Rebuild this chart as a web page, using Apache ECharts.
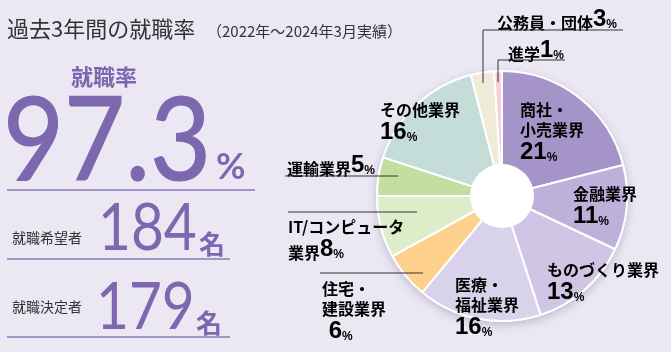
<!DOCTYPE html>
<html>
<head>
<meta charset="utf-8">
<script src="https://cdn.jsdelivr.net/npm/echarts@6/dist/echarts.min.js"></script>
<style>
    html, body { margin: 0; padding: 0; background: #ebe8f4; }
    #chart { width: 671px; height: 352px; }
</style>
</head>
<body>
<div id="chart"></div>
<script>
// =====================================================
// DATA
// =====================================================

const categories = ['商社・小売業界', '金融業界', 'ものづくり業界', '医療・福祉業界', '住宅・建設業界',
                    'IT/コンピュータ業界', '運輸業界', 'その他業界', '公務員・団体', '進学'];
const shares = [21, 11, 13, 16, 6, 8, 5, 16, 3, 1];

const rate = 97.3;
const applicants = 184;
const hired = 179;

// =====================================================
// STYLE
// =====================================================

const slice_colors = ['#a594c8', '#bdb1d9', '#cec6e4', '#d9d2eb', '#fdd08c',
                      '#ddedc9', '#c2dfa0', '#c5ddd9', '#f0ead9', '#f7cfd8'];
const purple = '#7d67af';
const ink = '#333333';
const jp = '"Noto Sans CJK JP", "Noto Sans", sans-serif';
const num_font = 'Lato, "Noto Sans", sans-serif';

const center = [502, 196];
const outer_r = 125;
const inner_r = 32;

// label layout: where each category name breaks and where the block sits
// mode: 'stack' = value on its own line, 'inline' = value after last name line
const label_layout = [
    { x: 520, y: 98,  breaks: [3],  mode: 'stack' },
    { x: 573, y: 182, breaks: [],   mode: 'stack' },
    { x: 547, y: 258, breaks: [],   mode: 'stack' },
    { x: 455, y: 273, breaks: [3],  mode: 'stack' },
    { x: 322, y: 277, breaks: [3],  mode: 'stack', indent: ' ' },
    { x: 288, y: 215, breaks: [9],  mode: 'inline' },
    { x: 287, y: 151, breaks: [],   mode: 'inline' },
    { x: 380, y: 98,  breaks: [],   mode: 'stack' },
    { x: 497, y: 5,   breaks: [],   mode: 'inline' },
    { x: 508, y: 36,  breaks: [],   mode: 'inline' }
];

const leader_lines = [
    [[483, 83], [483, 30], [623, 30]],
    [[498, 82], [498, 60], [565, 60]],
    [[285, 176], [398, 176]],
    [[288, 212], [417, 212]],
    [[320, 273], [423, 273]]
];

// =====================================================
// LABEL TEXT
// =====================================================

function label_text(i) {
    const lay = label_layout[i];
    const name = categories[i];
    let parts = [];
    let start = 0;
    lay.breaks.forEach(b => {
        parts.push(name.slice(start, b));
        start = b;
    });
    parts.push(name.slice(start));
    const lines = parts.map(p => `{n|${p}}`);
    const val = `{v|${(lay.indent || '')}${shares[i]}}{p|%}`;
    if (lay.mode === 'inline') {
        lines[lines.length - 1] += val;
    } else {
        lines.push(val);
    }
    return lines.join('\n');
}

const label_rich = {
    n: { fontFamily: jp, fontSize: 16, fontWeight: 'bold', color: ink, lineHeight: 20, verticalAlign: 'bottom' },
    v: { fontFamily: '"Liberation Sans", sans-serif', fontSize: 24, fontWeight: 'bold', color: ink, lineHeight: 26, verticalAlign: 'bottom' },
    p: { fontFamily: '"Liberation Sans", sans-serif', fontSize: 12, fontWeight: 'bold', color: ink, lineHeight: 20, verticalAlign: 'bottom' }
};

// =====================================================
// GRAPHICS
// =====================================================

const graphics = [];

// title
graphics.push({
    type: 'text', x: 7, y: 29,
    style: { text: '過去3年間の就職率', font: `22px ${jp}`, fill: ink, verticalAlign: 'middle' }
});
graphics.push({
    type: 'text', x: 207, y: 31,
    style: { text: '（2022年～2024年3月実績）', font: `15px ${jp}`, fill: ink, verticalAlign: 'middle' }
});

// left block
graphics.push({
    type: 'text', x: 104, y: 77,
    style: { text: '就職率', font: `bold 22px ${jp}`, fill: purple, align: 'center', verticalAlign: 'middle' }
});
graphics.push({
    type: 'text', x: 3, y: 142, scaleX: 0.9,
    style: { text: String(rate), font: `117px ${num_font}`, fill: purple, verticalAlign: 'middle',
             stroke: purple, lineWidth: 1.2 }
});
graphics.push({
    type: 'text', x: 216, y: 167,
    style: { text: '%', font: `bold 36px ${num_font}`, fill: purple, verticalAlign: 'middle' }
});

graphics.push({
    type: 'text', x: 12, y: 238,
    style: { text: '就職希望者', font: `14px ${jp}`, fill: ink, verticalAlign: 'middle' }
});
graphics.push({
    type: 'text', x: 98, y: 229, scaleX: 0.86,
    style: { text: String(applicants), font: `66px ${num_font}`, fill: purple, verticalAlign: 'middle' }
});
graphics.push({
    type: 'text', x: 199, y: 244,
    style: { text: '名', font: `bold 26px ${jp}`, fill: purple, verticalAlign: 'middle' }
});

graphics.push({
    type: 'text', x: 12, y: 307,
    style: { text: '就職決定者', font: `14px ${jp}`, fill: ink, verticalAlign: 'middle' }
});
graphics.push({
    type: 'text', x: 96, y: 308, scaleX: 0.86,
    style: { text: String(hired), font: `66px ${num_font}`, fill: purple, verticalAlign: 'middle' }
});
graphics.push({
    type: 'text', x: 196, y: 323,
    style: { text: '名', font: `bold 26px ${jp}`, fill: purple, verticalAlign: 'middle' }
});

[[7, 190, 255], [7, 259, 230], [7, 337, 230]].forEach(([x1, y, x2]) => {
    graphics.push({
        type: 'line',
        shape: { x1: x1, y1: y, x2: x2, y2: y },
        style: { stroke: '#8a79bd', lineWidth: 1.5 }
    });
});

// pie labels
categories.forEach((c, i) => {
    const lay = label_layout[i];
    graphics.push({
        type: 'text', x: lay.x, y: lay.y, z: 20,
        style: { text: label_text(i), rich: label_rich, verticalAlign: 'top' }
    });
});

leader_lines.forEach(pts => {
    graphics.push({
        type: 'polyline', z: 20,
        shape: { points: pts },
        style: { stroke: ink, lineWidth: 1, fill: null }
    });
});

// =====================================================
// CHART
// =====================================================

const chart = echarts.init(document.getElementById('chart'));

chart.setOption({
    backgroundColor: '#ebe8f4',
    animation: false,
    graphic: graphics,
    series: [
        {
            // soft shadow under the pie
            type: 'pie',
            silent: true,
            z: 1,
            center: center,
            radius: [0, outer_r + 1],
            label: { show: false },
            labelLine: { show: false },
            itemStyle: {
                color: '#ffffff',
                shadowBlur: 8,
                shadowColor: 'rgba(60, 50, 90, 0.25)',
                shadowOffsetY: 3
            },
            data: [{ value: 1 }]
        },
        {
            type: 'pie',
            z: 2,
            center: center,
            radius: [0, outer_r],
            startAngle: 90,
            clockwise: true,
            label: { show: false },
            labelLine: { show: false },
            itemStyle: { borderColor: '#ffffff', borderWidth: 2 },
            data: categories.map((c, i) => ({
                name: c,
                value: shares[i],
                itemStyle: { color: slice_colors[i] }
            }))
        },
        {
            // white hole in the middle
            type: 'pie',
            silent: true,
            z: 3,
            center: center,
            radius: [0, inner_r],
            label: { show: false },
            labelLine: { show: false },
            itemStyle: { color: '#ffffff' },
            data: [{ value: 1 }]
        }
    ]
});
</script>
</body>
</html>
